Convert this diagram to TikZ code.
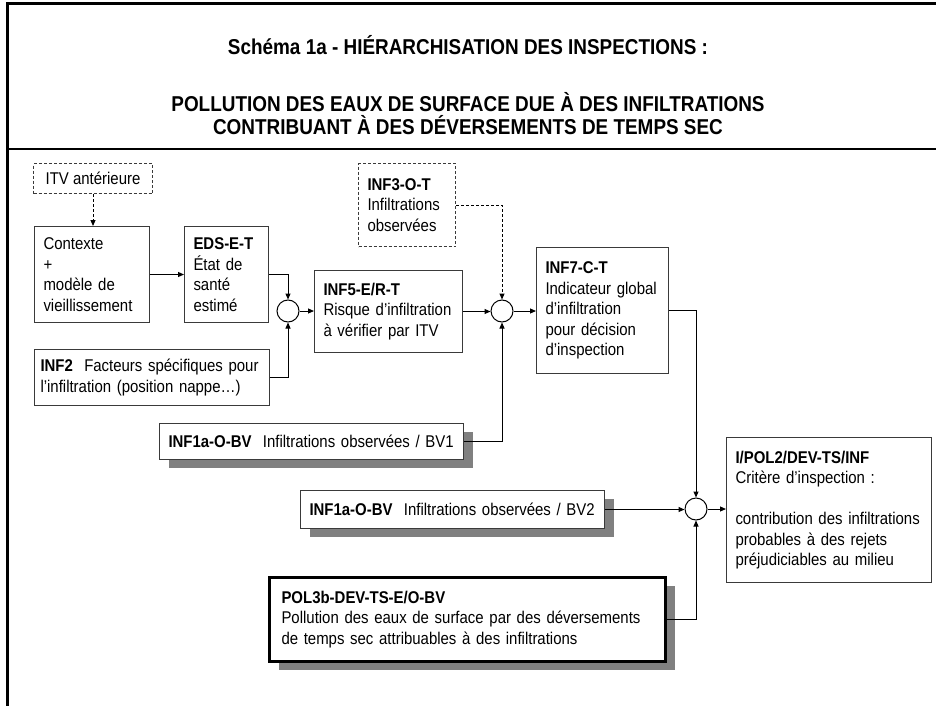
\documentclass[tikz,border=0pt]{standalone}
\usepackage{fontspec}
\setmainfont[FakeStretch=0.88]{Liberation Sans}
\usetikzlibrary{arrows.meta,shadows}
\definecolor{Edge}{HTML}{3A3A3A}
\definecolor{Shade}{HTML}{808080}
\newcommand{\bodyfont}{\fontsize{17}{20.5}\selectfont}
\newcommand{\headfont}{\fontsize{21.5}{23}\selectfont\bfseries}

\begin{document}
\begin{tikzpicture}[x=1pt,y=-1pt,>={Triangle[length=6pt,width=5pt]},
    box/.style={draw=Edge,line width=1pt,fill=white,align=left,inner xsep=9pt,inner ysep=0pt,anchor=north west,font=\bodyfont},
    dashbox/.style={box,dash pattern=on 3pt off 2pt},
    shadowbox/.style={box,drop shadow={shadow xshift=9pt,shadow yshift=-8pt,fill=Shade,opacity=1}},
    junction/.style={draw=black,line width=1pt,circle,minimum size=22pt,inner sep=0pt,fill=white},
    link/.style={->,line width=1pt},
    dashlink/.style={link,dash pattern=on 3pt off 2pt}]
    \useasboundingbox (0,0) rectangle (936,706);

    % cadre
    \draw[line width=3pt] (6,4) -- (936,4);
    \draw[line width=2.5pt] (7.5,3) -- (7.5,706);
    \draw[line width=1.5pt] (7.5,149) -- (936,149);

    % titre
    \node[font=\headfont,align=center] (titre) at (468,45) {Schéma 1a - HIÉRARCHISATION DES INSPECTIONS :};
    \node[font=\headfont,align=center] (sujet) at (468,114) {POLLUTION DES EAUX DE SURFACE DUE À DES INFILTRATIONS\\CONTRIBUANT À DES DÉVERSEMENTS DE TEMPS SEC};

    % boites
    \node[dashbox,align=center,minimum width=119pt,minimum height=30pt] (itv) at (33,163) {ITV antérieure};
    \node[box,text width=97pt,minimum height=96pt] (ctx) at (34,226) {Contexte\\+\\modèle de\\vieillissement};
    \node[box,text width=66pt,minimum height=96pt] (eds) at (184,226) {\textbf{EDS-E-T}\\État de\\santé\\estimé};
    \node[junction] (c1) at (288,311) {};
    \node[box,inner xsep=6pt,text width=223pt,minimum height=56pt] (inf2) at (34,349) {\textbf{INF2}\ \ Facteurs spécifiques pour\\l’infiltration (position nappe…)};
    \node[box,text width=130pt,minimum height=82pt] (inf5) at (314,270) {\textbf{INF5-E/R-T}\\Risque d’infiltration\\à vérifier par ITV};
    \node[dashbox,text width=79pt,minimum height=83pt] (inf3) at (358,163) {\textbf{INF3-O-T}\\Infiltrations\\observées};
    \node[junction] (c2) at (502,311) {};
    \node[box,text width=114pt,minimum height=126pt] (inf7) at (536,247) {\textbf{INF7-C-T}\\Indicateur global\\d’infiltration\\pour décision\\d’inspection};
    \node[shadowbox,text width=286pt,minimum height=36pt] (bv1) at (159,423) {\textbf{INF1a-O-BV}\ \ Infiltrations observées / BV1};
    \node[shadowbox,text width=286pt,minimum height=38pt] (bv2) at (300,490) {\textbf{INF1a-O-BV}\ \ Infiltrations observées / BV2};
    \node[junction] (c3) at (696,509) {};
    \node[box,text width=187pt,minimum height=145pt] (ipol) at (726,437) {\textbf{I/POL2/DEV-TS/INF}\\Critère d’inspection :\\~\\contribution des infiltrations\\probables à des rejets\\préjudiciables au milieu};
    \node[shadowbox,draw=black,line width=3pt,inner xsep=12pt,text width=372pt,minimum height=84pt] (pol) at (268,576) {\textbf{POL3b-DEV-TS-E/O-BV}\\Pollution des eaux de surface par des déversements\\de temps sec attribuables à des infiltrations};

    % liaisons
    \draw[dashlink] (itv.south) -- (itv.south |- ctx.north);
    \draw[link] (ctx) -- (eds);
    \draw[link] (eds.east) -| (c1.north);
    \draw[link] (inf2.east) -| (c1.south);
    \draw[link] (c1.east) -- (c1.east -| inf5.west);
    \draw[link] (inf5.east) -- (inf5.east -| c2.west);
    \draw[dashlink] (inf3.east) -| (c2.north);
    \draw[link] (bv1.east) -| (c2.south);
    \draw[link] (c2.east) -- (c2.east -| inf7.west);
    \draw[link] (inf7.east) -| (c3.north);
    \draw[link] (bv2.east) -- (bv2.east -| c3.west);
    \draw[link] (pol.east) -| (c3.south);
    \draw[link] (c3.east) -- (c3.east -| ipol.west);
\end{tikzpicture}
\end{document}
